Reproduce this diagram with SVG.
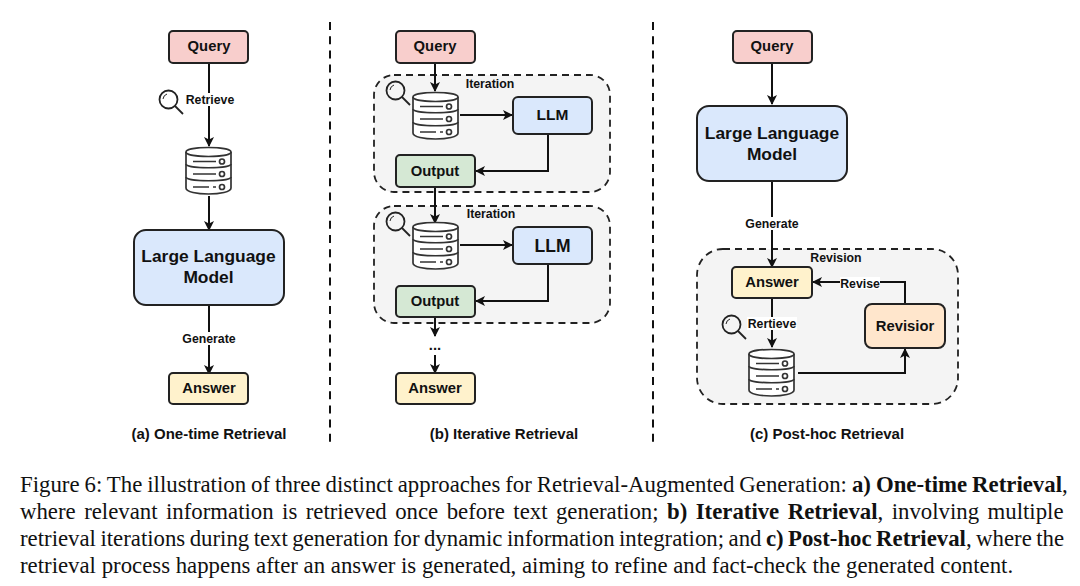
<svg xmlns="http://www.w3.org/2000/svg" width="1080" height="586" viewBox="0 0 1080 586">
<style>
text{font-family:"Liberation Sans",Arial,sans-serif;fill:#111;text-anchor:middle}
.n{stroke:#222;stroke-width:2}
.t{font-weight:700;font-size:14.800px}
.big{font-weight:700;font-size:17.400px}
.e{font-weight:700;font-size:12.300px}
.cap{font-weight:700;font-size:15px}
.g{fill:#f4f4f4;stroke:#222;stroke-width:1.800;stroke-dasharray:7 5}
.c{fill:none;stroke:#111;stroke-width:2;marker-end:url(#a)}
.d{fill:none;stroke:#111;stroke-width:2;stroke-dasharray:8 6.200}
.i{fill:none;stroke:#333;stroke-width:1.700}
.r{font-family:"Liberation Serif","Times New Roman",serif;font-size:22.800px;text-anchor:start;fill:#111}
.r tspan.b{font-weight:700}
</style>
<defs>
<marker id="a" markerWidth="12" markerHeight="12" refX="9" refY="5" orient="auto" markerUnits="userSpaceOnUse"><path d="M0 0L10 5L0 10L2.500 5Z" fill="#111"/></marker>
<g id="db" class="i">
<path d="M0 6C0 0 45 0 45 6V42C45 50 0 50 0 42Z" fill="#fff"/>
<path d="M0 6C0 12 45 12 45 6M0 18C0 23 45 23 45 18M0 31C0 36 45 36 45 31"/>
<path d="M7 15.500H30M7 28H30M7 41H23M27 41H30"/>
<circle cx="36" cy="15.500" r="2.500"/><circle cx="36" cy="28" r="2.500"/><circle cx="36" cy="41" r="2.500"/>
</g>
<g id="mag" fill="none" stroke="#222" stroke-width="1.800"><circle cx="9.500" cy="9.500" r="9"/><path d="M4 9A6 6 0 0 1 8 4" stroke-width="1"/><path d="M16 16L24 24"/></g>
</defs>
<rect width="1080" height="586" fill="#fff"/>

<g id="dividers">
<path class="d" d="M330 22V442"/><path class="d" d="M653 22V442"/>
</g>

<g id="group-iter1"><rect class="g" x="374" y="75" width="236" height="117" rx="20"/><text class="e" x="490" y="88">Iteration</text></g>
<g id="group-iter2"><rect class="g" x="374" y="206" width="236" height="117" rx="20"/><text class="e" x="491" y="218">Iteration</text></g>
<g id="group-rev"><rect class="g" x="697" y="249" width="261" height="155" rx="26"/><text class="e" x="836" y="262">Revision</text></g>

<g id="connectors">
<path class="c" d="M209 63V146"/>
<path class="c" d="M209 196V230"/>
<path class="c" d="M209 305V374"/>
<path class="c" d="M435 63V91"/>
<path class="c" d="M460 115H512"/>
<path class="c" d="M548 134V171H476"/>
<path class="c" d="M435 188V223"/>
<path class="c" d="M460 245H512"/>
<path class="c" d="M548 264V301H476"/>
<path class="c" d="M435 318V336"/>
<path class="c" d="M435 355V373"/>
<path class="c" d="M772 63V104"/>
<path class="c" d="M772 181V267"/>
<path class="c" d="M772 299V347"/>
<path class="c" d="M798 373H905V349"/>
<path class="c" d="M905 304V282H813"/>
</g>

<g id="edge-labels">
<rect x="184" y="93" width="52" height="13" fill="#fff"/><text class="e" x="210" y="104">Retrieve</text>
<rect x="180" y="332" width="58" height="13" fill="#fff"/><text class="e" x="209" y="343">Generate</text>
<text class="t" x="435" y="350">...</text>
<rect x="743" y="217" width="58" height="13" fill="#fff"/><text class="e" x="772" y="228">Generate</text>
<rect x="747" y="317" width="50" height="13" fill="#fff"/><text class="e" x="772" y="328">Rertieve</text>
<rect x="840" y="277" width="40" height="12" fill="#fff"/><text class="e" x="860" y="288">Revise</text>
</g>

<g id="n-a-query"><rect class="n" x="169" y="31" width="79" height="32" rx="4" fill="#f8cecc"/><text class="t" x="209" y="51">Query</text></g>
<g id="n-a-search"><use href="#mag" x="159" y="90"/></g>
<g id="n-a-db"><use href="#db" x="186" y="146"/></g>
<g id="n-a-llm"><rect class="n" x="134" y="230" width="150" height="75" rx="12" fill="#dae8fc"/><text class="big" x="208.500" y="262">Large Language</text><text class="big" x="208.500" y="283">Model</text></g>
<g id="n-a-answer"><rect class="n" x="169" y="373" width="79" height="31" rx="4" fill="#fff2cc"/><text class="t" x="209" y="393">Answer</text></g>

<g id="n-b-query"><rect class="n" x="396" y="31" width="79" height="32" rx="4" fill="#f8cecc"/><text class="t" x="435" y="51">Query</text></g>
<g id="n-b-search1"><use href="#mag" x="386" y="81"/></g>
<g id="n-b-db1"><use href="#db" x="413" y="91"/></g>
<g id="n-b-llm1"><rect class="n" x="513" y="97" width="79" height="37" rx="5" fill="#dae8fc"/><text class="t" x="552.500" y="120" style="font-size:15.500px">LLM</text></g>
<g id="n-b-output1"><rect class="n" x="396" y="155" width="79" height="32" rx="4" fill="#d5e8d4"/><text class="t" x="435" y="176">Output</text></g>
<g id="n-b-search2"><use href="#mag" x="386" y="212"/></g>
<g id="n-b-db2"><use href="#db" x="413" y="221"/></g>
<g id="n-b-llm2"><rect class="n" x="513" y="227" width="79" height="37" rx="5" fill="#dae8fc"/><text class="t" x="552.500" y="252" style="font-size:17.500px">LLM</text></g>
<g id="n-b-output2"><rect class="n" x="396" y="286" width="79" height="31" rx="4" fill="#d5e8d4"/><text class="t" x="435" y="306">Output</text></g>
<g id="n-b-answer"><rect class="n" x="396" y="373" width="79" height="31" rx="4" fill="#fff2cc"/><text class="t" x="435" y="393">Answer</text></g>

<g id="n-c-query"><rect class="n" x="733" y="31" width="79" height="32" rx="4" fill="#f8cecc"/><text class="t" x="772" y="51">Query</text></g>
<g id="n-c-llm"><rect class="n" x="697" y="106" width="150" height="75" rx="12" fill="#dae8fc"/><text class="big" x="772" y="139">Large Language</text><text class="big" x="772" y="160">Model</text></g>
<g id="n-c-answer"><rect class="n" x="732" y="267" width="80" height="31" rx="4" fill="#fff2cc"/><text class="t" x="772" y="287">Answer</text></g>
<g id="n-c-search"><use href="#mag" x="722" y="315"/></g>
<g id="n-c-db"><use href="#db" x="749" y="348"/></g>
<g id="n-c-revisior"><rect class="n" x="865" y="304" width="80" height="44" rx="7" fill="#ffe6cc"/><text class="t" x="905" y="331">Revisior</text></g>

<g id="captions">
<text class="cap" x="209" y="439">(a) One-time Retrieval</text>
<text class="cap" x="504" y="439">(b) Iterative Retrieval</text>
<text class="cap" x="827" y="439">(c) Post-hoc Retrieval</text>
</g>

<g id="caption">
<text class="r" x="20" y="492" word-spacing="-0.700">Figure 6: The illustration of three distinct approaches for Retrieval-Augmented Generation: <tspan class="b">a) One-time Retrieval</tspan>,</text>
<text class="r" x="20" y="519" word-spacing="2.750">where relevant information is retrieved once before text generation; <tspan class="b">b) Iterative Retrieval</tspan>, involving multiple</text>
<text class="r" x="20" y="546" word-spacing="-1.250">retrieval iterations during text generation for dynamic information integration; and <tspan class="b">c) Post-hoc Retrieval</tspan>, where the</text>
<text class="r" x="20" y="573">retrieval process happens after an answer is generated, aiming to refine and fact-check the generated content.</text>
</g>
</svg>
